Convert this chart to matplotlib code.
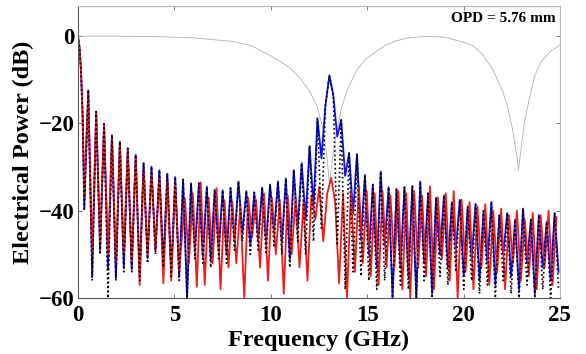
import numpy as np
import matplotlib
matplotlib.use('Agg')
import matplotlib.pyplot as plt

# frequency grid (GHz): main-lobe points, then null/peak points every half lobe
lead_freq = [0.0, 0.08, 0.16, 0.24]
lobe_freq = np.arange(0.33, 25.0, 0.205)
freq = np.concatenate([lead_freq, lobe_freq])
# red lobes drift slightly past 5.5 GHz
red_freq = np.concatenate([lead_freq, np.arange(0.33, 5.3, 0.205),
                           np.arange(5.55, 25.1, 0.205)])

lead_db = [0.0, -2.5, -8.0, -18.0]

# measured, blue (dB) at lobe_freq
blue_db = [
    -39.4, -12.4, -55.0, -17.3, -49.0, -20.1, -53.5, -22.7, -55.4, -24.2,
    -53.0, -25.7, -53.5, -27.2, -55.0, -29.1, -50.9, -29.9, -49.0, -30.7,
    -52.0, -31.5, -54.0, -32.3, -55.0, -32.8, -60.0, -33.7, -49.0, -33.7,
    -50.5, -34.5, -51.0, -35.2, -49.0, -35.3, -50.0, -34.8, -46.7, -33.3,
    -45.0, -35.5, -48.0, -35.8, -46.7, -34.7, -47.5, -34.0, -45.0, -33.3,
    -47.0, -32.6, -51.0, -30.7, -44.0, -29.1, -42.0, -25.2, -39.0, -18.8,
    -28.0, -16.0, -9.0, -13.5, -23.0, -19.2, -32.0, -26.8, -40.6, -27.0,
    -46.7, -31.8, -50.0, -34.0, -53.0, -31.0, -48.0, -34.6, -60.0, -35.0,
    -53.0, -34.6, -55.0, -34.3, -60.0, -33.3, -52.0, -36.0, -59.0, -37.0,
    -50.0, -36.5, -53.0, -38.0, -49.0, -37.5, -55.0, -39.0, -51.0, -38.5,
    -56.0, -40.0, -52.0, -38.0, -57.0, -41.0, -50.0, -40.5, -55.0, -42.0,
    -58.0, -39.5, -52.0, -42.0, -59.0, -41.0, -53.0, -42.5, -56.0, -40.5,
    -54.0,
]

# simulation, black dotted (dB) at lobe_freq
sim_db = [
    -40.0, -12.4, -56.0, -17.3, -50.0, -20.1, -60.0, -22.7, -56.0, -24.2,
    -54.0, -25.7, -54.0, -27.2, -56.0, -29.0, -52.0, -29.9, -50.0, -30.7,
    -53.0, -31.5, -55.0, -32.3, -56.0, -32.8, -60.0, -33.7, -51.0, -33.7,
    -52.0, -34.5, -53.0, -35.2, -51.0, -35.3, -52.0, -34.8, -49.0, -33.3,
    -47.0, -35.5, -50.0, -35.8, -49.0, -34.7, -50.0, -34.0, -48.0, -33.3,
    -50.0, -32.6, -53.0, -30.7, -47.0, -29.1, -50.0, -25.2, -47.0, -18.8,
    -44.0, -16.0, -9.0, -13.5, -48.0, -19.2, -58.0, -26.8, -54.0, -27.0,
    -55.0, -31.8, -56.0, -34.0, -58.0, -31.0, -56.0, -34.6, -60.0, -35.0,
    -57.0, -34.6, -58.0, -34.3, -60.0, -33.3, -56.0, -36.0, -60.0, -37.0,
    -55.0, -36.5, -57.0, -38.0, -54.0, -37.5, -58.0, -39.0, -56.0, -38.5,
    -59.0, -40.0, -57.0, -38.0, -60.0, -41.0, -56.0, -40.5, -59.0, -42.0,
    -60.0, -39.5, -57.0, -42.0, -60.0, -41.0, -58.0, -42.5, -60.0, -40.5,
    -58.0,
]

# measured, red (dB) at red_freq
red_db = [
    -36.0, -12.6, -50.0, -17.5, -47.0, -20.3, -50.0, -22.9, -52.0, -24.5,
    -50.0, -26.0, -52.0, -27.5, -57.0, -30.5, -50.0, -31.5, -49.0, -32.5,
    -56.6, -33.0, -56.0, -34.0, -54.0, -37.2, -52.0, -36.0, -57.4, -33.5,
    -57.0, -37.0, -52.0, -34.8, -58.0, -37.6, -53.0, -38.0, -52.0, -39.0,
    -60.0, -37.0, -46.0, -37.5, -53.0, -36.0, -56.0, -37.0, -50.0, -37.5,
    -59.0, -36.5, -50.0, -37.0, -53.0, -38.0, -56.0, -36.5, -42.0, -34.5,
    -47.0, -36.0, -32.5, -38.0, -56.6, -36.0, -60.0, -35.5, -54.0, -34.3,
    -52.0, -35.5, -55.0, -36.0, -57.0, -35.5, -53.0, -36.5, -53.0, -35.5,
    -58.0, -36.0, -60.0, -35.5, -53.0, -36.5, -55.0, -34.4, -58.0, -37.0,
    -51.0, -36.0, -56.0, -35.5, -60.0, -37.5, -54.0, -38.0, -58.0, -39.0,
    -53.0, -38.5, -57.0, -40.0, -54.0, -39.5, -58.0, -41.0, -52.0, -40.0,
    -56.0, -42.0, -55.0, -40.5, -58.0, -41.0, -53.0, -40.0, -57.0, -41.5,
]

# dispersion induced power fading (gray)
gray_freq = [0, 2, 4, 6, 8, 9, 10, 10.5, 11, 11.5, 12, 12.4, 12.7, 12.9,
             13.05, 13.2, 13.4, 13.7, 14, 14.5, 15, 15.5, 16, 16.5, 17, 18,
             19, 20, 20.5, 21, 21.5, 22, 22.3, 22.55, 22.75, 22.85, 22.95,
             23.15, 23.4, 23.7, 24, 24.5, 25]
gray_db = [0, 0, -0.1, -0.4, -1.2, -2.2, -4.5, -5.8, -7.3, -9.5, -12.5,
           -16, -21, -27, -34, -28, -22, -16, -12, -7.5, -5, -3.4, -2, -1.1,
           -0.5, -0.05, -0.2, -1.4, -2.2, -4.3, -7.5, -12.2, -16.5, -21.5,
           -27, -30.7, -27, -20, -14.5, -9, -6, -3.5, -2]

fig = plt.figure(figsize=(5.86, 3.54), dpi=100)
ax = fig.add_axes([0.133, 0.158, 0.8225, 0.825])

ax.plot(gray_freq, gray_db, color='#b0b0b0', lw=0.6)
ax.plot(freq, lead_db + blue_db, color='#1010ee', lw=1.3)
ax.plot(red_freq[:len(lead_db) + len(red_db)], lead_db + red_db,
        color='#ee1c1c', lw=1.3)
ax.plot(freq, lead_db + sim_db, color='black', lw=1.2, ls=':')

ax.set_xlim(0, 25)
ax.set_ylim(-60, 6.9)
ax.set_xticks([0, 5, 10, 15, 20, 25])
ax.set_yticks([0, -20, -40, -60])

font = {'family': 'Liberation Serif', 'weight': 'bold'}
ax.set_xlabel('Frequency (GHz)', fontsize=17.5, labelpad=3, **font)
ax.set_ylabel('Electrical Power (dB)', fontsize=17.5, labelpad=3, **font)
for lab in ax.get_xticklabels() + ax.get_yticklabels():
    lab.set_fontfamily('Liberation Serif')
    lab.set_fontweight('bold')
    lab.set_fontsize(16.5)
ax.tick_params(direction='in', length=3, width=0.6, top=True, right=True,
               color='#666666')
ax.tick_params(axis='x', pad=5)
ax.tick_params(axis='y', pad=2.5)
for side in ['top', 'right']:
    ax.spines[side].set_color('#b5b5b5')
for side in ['left', 'bottom']:
    ax.spines[side].set_color('#555555')

ax.text(24.8, 5.6, 'OPD = 5.76 mm', ha='right', va='top', fontsize=11, **font)

fig.savefig('out.png', dpi=100)
